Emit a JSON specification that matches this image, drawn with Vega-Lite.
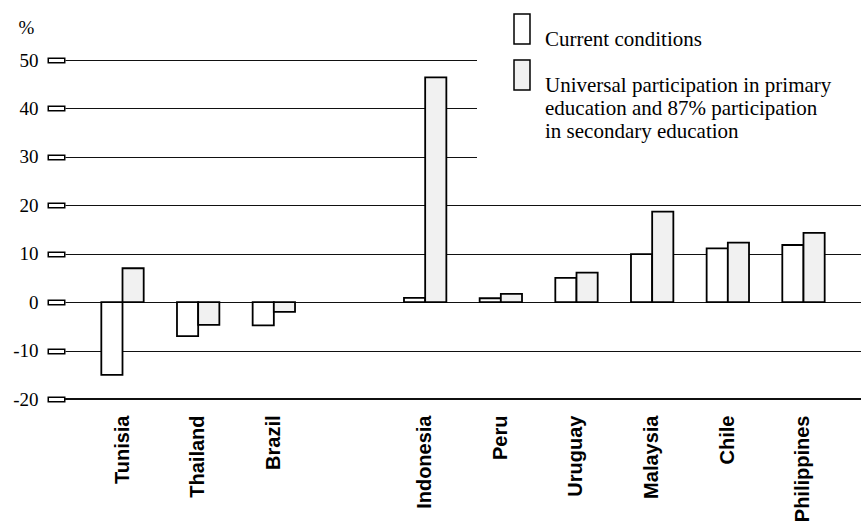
{
  "$schema": "https://vega.github.io/schema/vega-lite/v6.json",
  "width": 796,
  "height": 339,
  "autosize": {"type": "none"},
  "padding": {"left": 65, "top": 60, "right": 0, "bottom": 124},
  "background": "white",
  "config": {"view": {"stroke": null}},
  "data": {
    "values": [
      {"country": "Tunisia", "series": "Current conditions", "value": -15},
      {"country": "Tunisia", "series": "Universal participation in primary education and 87% participation in secondary education", "value": 7},
      {"country": "Thailand", "series": "Current conditions", "value": -7},
      {"country": "Thailand", "series": "Universal participation in primary education and 87% participation in secondary education", "value": -4.7},
      {"country": "Brazil", "series": "Current conditions", "value": -4.8},
      {"country": "Brazil", "series": "Universal participation in primary education and 87% participation in secondary education", "value": -2},
      {"country": "Indonesia", "series": "Current conditions", "value": 0.9},
      {"country": "Indonesia", "series": "Universal participation in primary education and 87% participation in secondary education", "value": 46.4},
      {"country": "Peru", "series": "Current conditions", "value": 0.8},
      {"country": "Peru", "series": "Universal participation in primary education and 87% participation in secondary education", "value": 1.7},
      {"country": "Uruguay", "series": "Current conditions", "value": 5},
      {"country": "Uruguay", "series": "Universal participation in primary education and 87% participation in secondary education", "value": 6.1},
      {"country": "Malaysia", "series": "Current conditions", "value": 9.9},
      {"country": "Malaysia", "series": "Universal participation in primary education and 87% participation in secondary education", "value": 18.7},
      {"country": "Chile", "series": "Current conditions", "value": 11.1},
      {"country": "Chile", "series": "Universal participation in primary education and 87% participation in secondary education", "value": 12.3},
      {"country": "Philippines", "series": "Current conditions", "value": 11.8},
      {"country": "Philippines", "series": "Universal participation in primary education and 87% participation in secondary education", "value": 14.3}
    ]
  },
  "layer": [
    {
      "mark": {"type": "bar", "stroke": "black", "strokeWidth": 1.8},
      "encoding": {
        "x": {
          "field": "country",
          "type": "nominal",
          "scale": {
            "domain": ["Tunisia", "Thailand", "Brazil", " ", "Indonesia", "Peru", "Uruguay", "Malaysia", "Chile", "Philippines"],
            "paddingInner": 0.44,
            "paddingOuter": 0.48
          },
          "axis": {
            "title": null,
            "domain": false,
            "ticks": false,
            "labelAngle": -90,
            "labelFont": "Liberation Sans",
            "labelFontWeight": "bold",
            "labelFontSize": 20,
            "labelPadding": 16,
            "labelColor": "black"
          }
        },
        "xOffset": {
          "field": "series",
          "type": "nominal",
          "scale": {
            "domain": ["Current conditions", "Universal participation in primary education and 87% participation in secondary education"],
            "paddingInner": 0,
            "paddingOuter": 0
          }
        },
        "y": {
          "field": "value",
          "type": "quantitative",
          "scale": {"domain": [-20, 50], "nice": false, "zero": false},
          "axis": {
            "values": [-20, -10, 0, 10, 20, 30, 40, 50],
            "grid": true,
            "gridColor": "#111111",
            "gridWidth": 1.2,
            "domain": false,
            "tickSize": 18,
            "tickWidth": 6,
            "tickColor": "black",
            "labelFont": "Liberation Serif",
            "labelFontSize": 19,
            "labelPadding": 9,
            "labelColor": "black",
            "labelExpr": "datum.value < 0 ? '-' + abs(datum.value) : datum.label",
            "title": "%",
            "titleAngle": 0,
            "titleX": -47,
            "titleY": -27,
            "titleAlign": "left",
            "titleBaseline": "alphabetic",
            "titleFont": "Liberation Serif",
            "titleFontSize": 19,
            "titleFontWeight": "normal",
            "titleColor": "black"
          }
        },
        "fill": {
          "field": "series",
          "type": "nominal",
          "scale": {
            "domain": ["Current conditions", "Universal participation in primary education and 87% participation in secondary education"],
            "range": ["white", "#f1f1f1"]
          },
          "legend": {
            "orient": "none",
            "legendX": 412,
            "legendY": -76,
            "title": null,
            "padding": 29,
            "fillColor": "white",
            "strokeColor": null,
            "symbolType": "M-0.533,-1H0.533V1H-0.533Z",
            "symbolSize": 900,
            "symbolStrokeColor": "black",
            "symbolStrokeWidth": 1.5,
            "labelFont": "Liberation Serif",
            "labelFontSize": 21,
            "labelLineHeight": 23.5,
            "labelColor": "black",
            "labelLimit": 500,
            "labelOffset": 7,
            "labelBaseline": "top",
            "rowPadding": 7,
            "labelExpr": "datum.label == 'Current conditions' ? datum.label : ['Universal participation in primary', 'education and 87% participation', 'in secondary education']"
          }
        }
      }
    },
    {
      "mark": {"type": "rule", "color": "#111111", "strokeWidth": 1.2},
      "encoding": {
        "y": {
          "datum": -20,
          "type": "quantitative",
          "axis": {
            "orient": "left",
            "values": [-20, -10, 0, 10, 20, 30, 40, 50],
            "grid": false,
            "domain": false,
            "labels": false,
            "tickSize": 15,
            "tickWidth": 3,
            "tickColor": "white",
            "offset": 1.5,
            "title": null
          }
        }
      }
    }
  ],
  "resolve": {"axis": {"y": "independent"}}
}
